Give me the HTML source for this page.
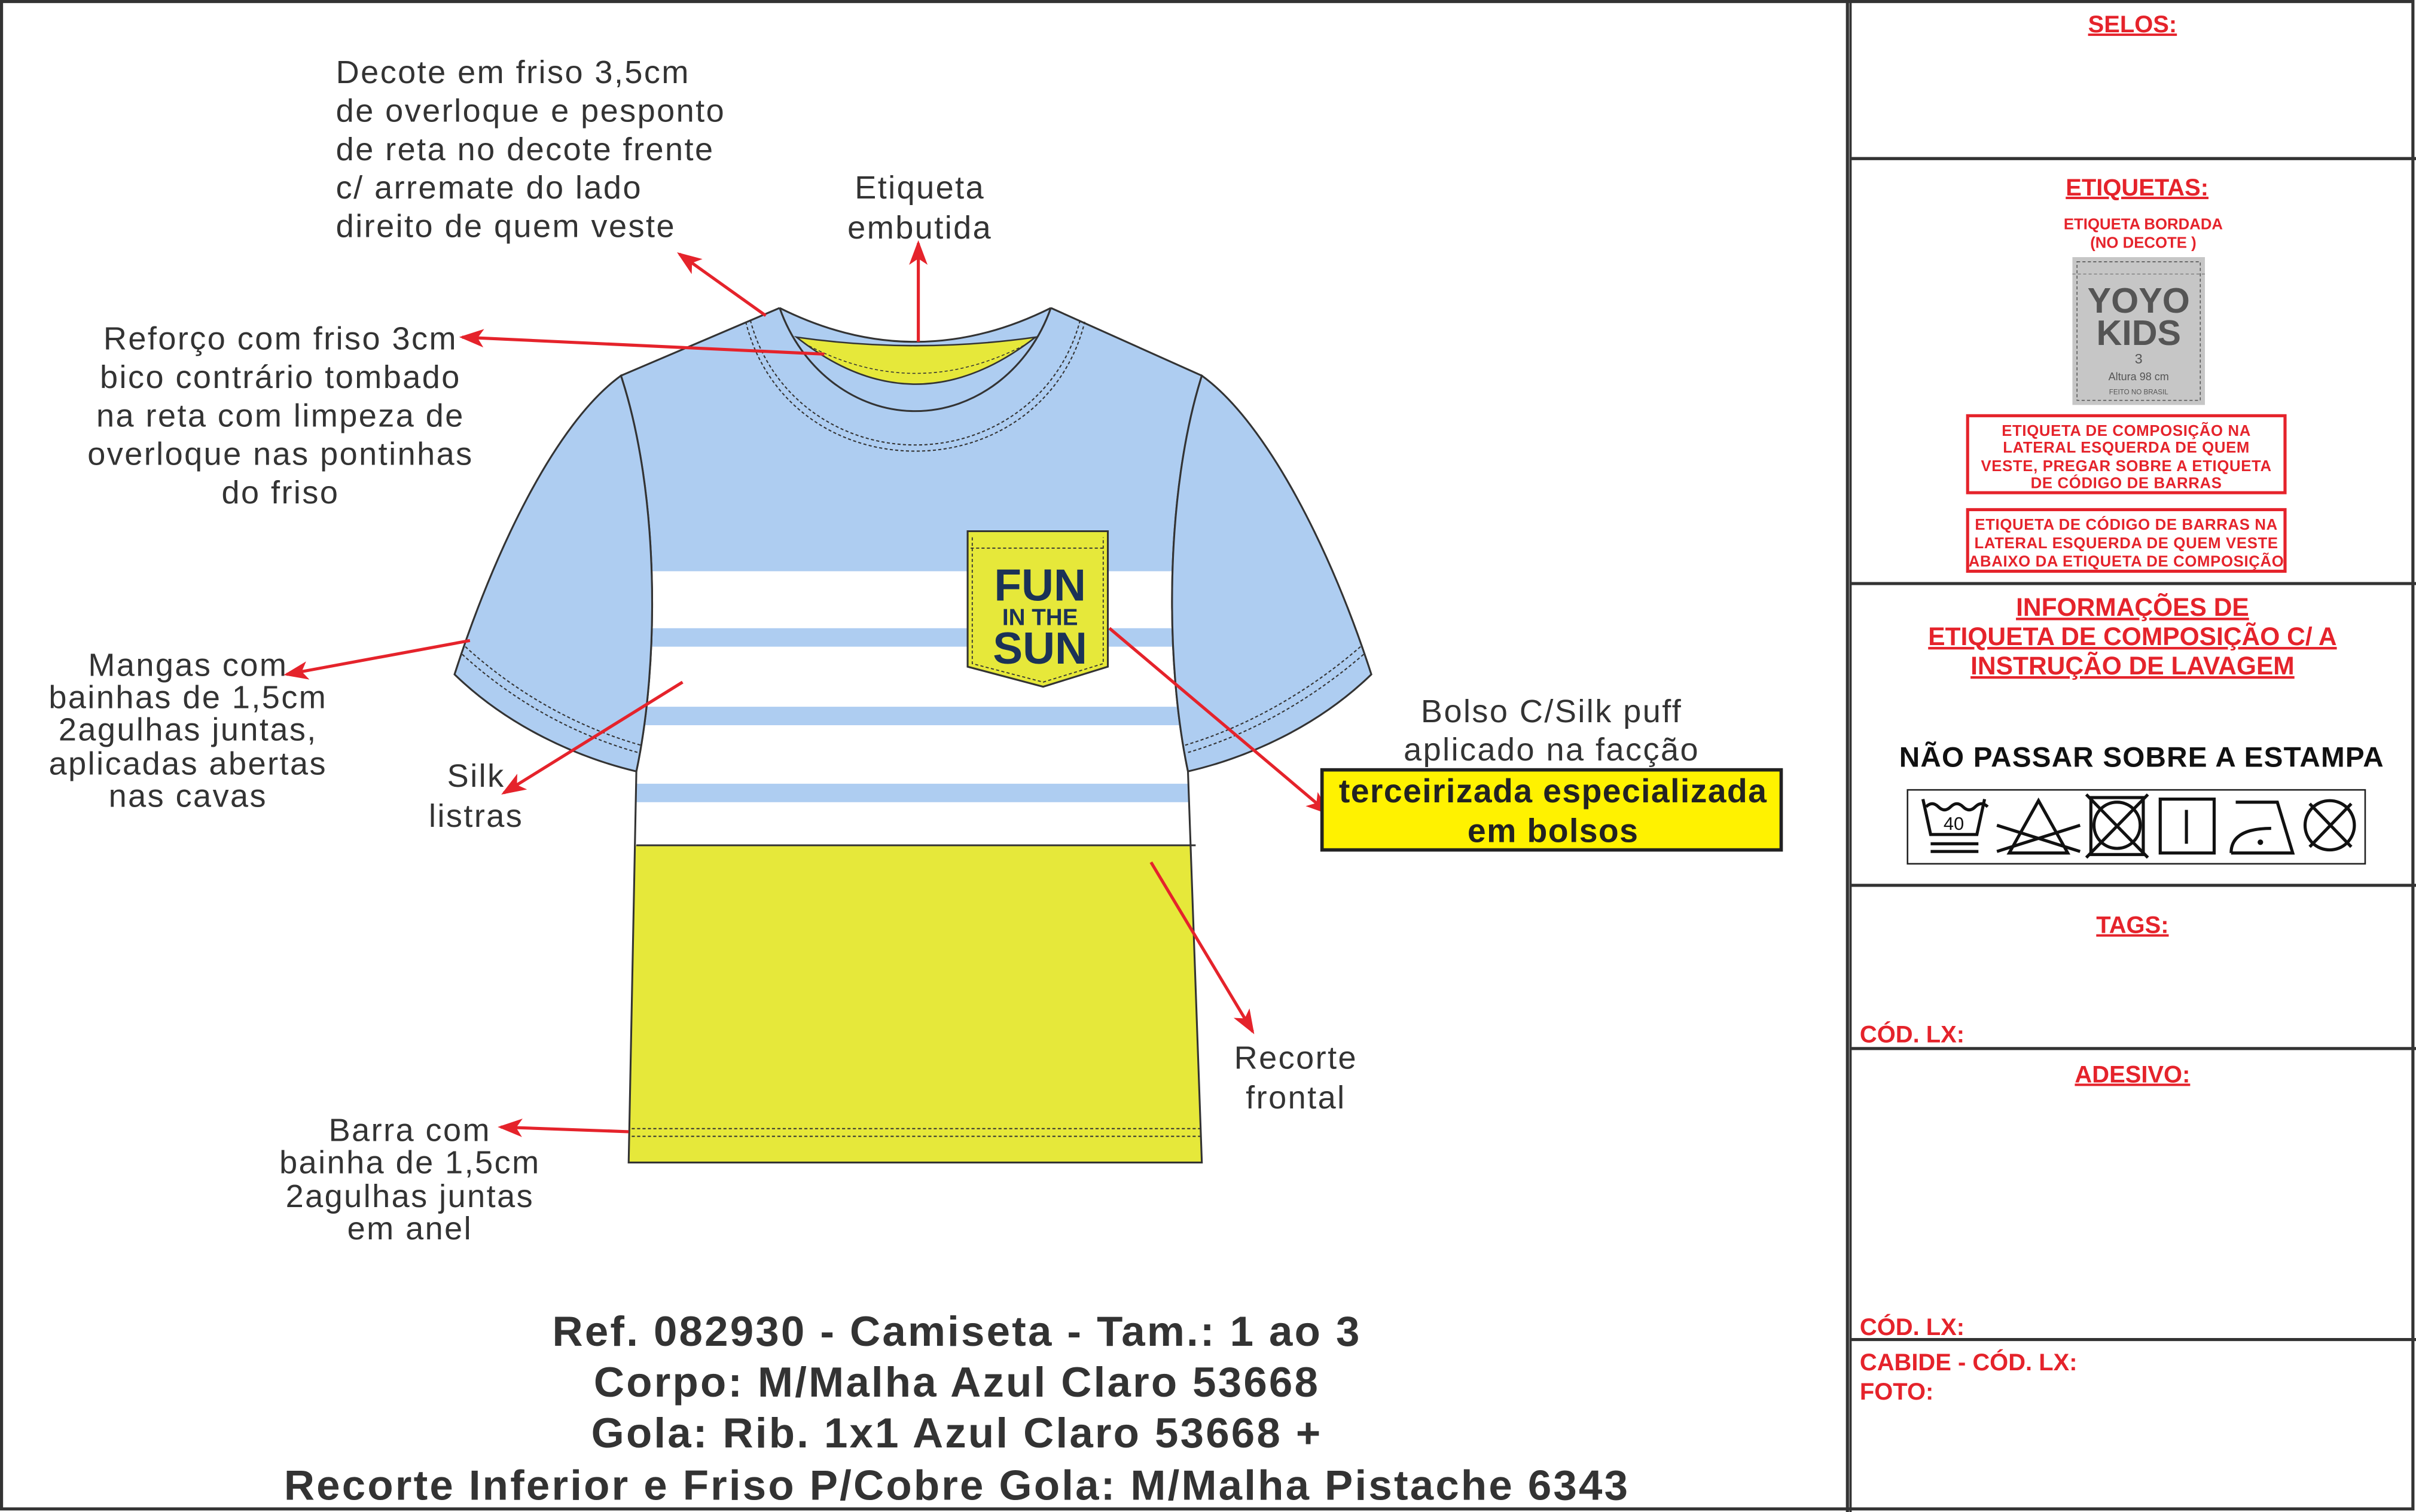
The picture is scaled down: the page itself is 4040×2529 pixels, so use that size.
<!DOCTYPE html>
<html><head><meta charset="utf-8"><style>
html,body{margin:0;padding:0;background:#fff;}
svg{display:block;}
text{font-family:"Liberation Sans",Arial,sans-serif;}
.ls{letter-spacing:0.045em;}
.ls2{letter-spacing:0.025em;}
</style></head><body>
<svg width="4040" height="2529" viewBox="0 0 1568 982" preserveAspectRatio="none" xmlns="http://www.w3.org/2000/svg">
<defs>
<marker id="ah" markerUnits="userSpaceOnUse" markerWidth="16" markerHeight="12" refX="14" refY="6" orient="auto">
<path d="M0,0 L16,6 L0,12 L4,6 Z" fill="#e5232b"/>
</marker>
<clipPath id="bodyclip"><path d="M506,200 L403,244 C428,320 428,430 413,501 L408,755 L780,755 L771,501 C756,430 756,320 780,244 L682,200 Q594,244 506,200 Z"/></clipPath>
</defs>
<rect x="0" y="0" width="1568" height="982" fill="#fff"/>
<rect x="1" y="1" width="1565" height="979" fill="none" stroke="#333" stroke-width="2"/>
<line x1="1199" y1="0" x2="1199" y2="982" stroke="#333" stroke-width="2"/>
<line x1="1201" y1="0" x2="1201" y2="982" stroke="#333" stroke-width="1.5"/>
<g stroke="#333" stroke-width="2">
<line x1="1201" y1="103" x2="1568" y2="103"/>
<line x1="1201" y1="379" x2="1568" y2="379"/>
<line x1="1201" y1="575" x2="1568" y2="575"/>
<line x1="1201" y1="681" x2="1568" y2="681"/>
<line x1="1201" y1="870" x2="1568" y2="870"/>
</g>

<!-- SHIRT body -->
<path d="M506,200 L403,244 C428,320 428,430 413,501 L408,755 L780,755 L771,501 C756,430 756,320 780,244 L682,200 Q594,244 506,200 Z" fill="#aecdf1"/>
<g clip-path="url(#bodyclip)">
<rect x="380" y="371" width="420" height="37" fill="#fff"/>
<rect x="380" y="420" width="420" height="39" fill="#fff"/>
<rect x="380" y="471" width="420" height="38" fill="#fff"/>
<rect x="380" y="521" width="420" height="28" fill="#fff"/>
<rect x="380" y="549" width="420" height="210" fill="#e6e83a"/>
</g>
<line x1="413" y1="549" x2="776" y2="549" stroke="#333" stroke-width="1.2"/>
<path d="M506,200 L403,244 C428,320 428,430 413,501 L408,755 L780,755 L771,501 C756,430 756,320 780,244 L682,200" fill="none" stroke="#333" stroke-width="1.2"/>
<line x1="410" y1="733" x2="779" y2="733" stroke="#333" stroke-width="0.8" stroke-dasharray="2,1.5"/>
<line x1="410" y1="738" x2="779" y2="738" stroke="#333" stroke-width="0.8" stroke-dasharray="2,1.5"/>
<!-- sleeves -->
<path d="M403,244 C360,275 320,360 295,438 C330,472 375,492 413,501 C428,430 428,320 403,244 Z" fill="#aecdf1" stroke="#333" stroke-width="1.2"/>
<path d="M780,244 C823,275 865,360 890,438 C855,472 810,492 771,501 C756,430 756,320 780,244 Z" fill="#aecdf1" stroke="#333" stroke-width="1.2"/>
<path d="M300,425 C335,457 375,478 415,489" fill="none" stroke="#333" stroke-width="0.8" stroke-dasharray="2,1.5"/>
<path d="M302,420 C337,452 377,473 416,484" fill="none" stroke="#333" stroke-width="0.8" stroke-dasharray="2,1.5"/>
<path d="M885,425 C848,457 808,478 770,489" fill="none" stroke="#333" stroke-width="0.8" stroke-dasharray="2,1.5"/>
<path d="M883,420 C846,452 806,473 769,484" fill="none" stroke="#333" stroke-width="0.8" stroke-dasharray="2,1.5"/>
<!-- neck -->
<path d="M506,200 Q594,244 682,200" fill="none" stroke="#333" stroke-width="1.2"/>
<path d="M517,219 Q594,230 672,219 Q594,280 517,219 Z" fill="#e6e83a" stroke="#333" stroke-width="1"/>
<path d="M522,223 Q594,262 667,223" fill="none" stroke="#333" stroke-width="0.6" stroke-dasharray="2,1.5"/>
<path d="M506,200 C520,240 555,267 594,267 C633,267 668,240 682,200" fill="none" stroke="#333" stroke-width="1.2"/>
<path d="M487,208 C500,258 545,289 594,289 C643,289 688,258 701,208" fill="none" stroke="#333" stroke-width="0.8" stroke-dasharray="2,1.5"/>
<path d="M484,209 C497,262 543,293 594,293 C645,293 691,262 704,209" fill="none" stroke="#333" stroke-width="0.8" stroke-dasharray="2,1.5"/>
<!-- pocket -->
<path d="M628,345 L719,345 L719,433 L677,446 L628,433 Z" fill="#e6e83a" stroke="#333" stroke-width="1.2"/>
<path d="M630,356 L717,356 M631,349 L631,431 L677,443 L716,431 L716,349" fill="none" stroke="#333" stroke-width="0.7" stroke-dasharray="2,1.5"/>
<g fill="#1b3257" font-weight="bold" text-anchor="middle">
<text x="675" y="390" font-size="29">FUN</text>
<text x="675" y="406" font-size="15">IN THE</text>
<text x="675" y="431" font-size="29">SUN</text>
</g>

<!-- arrows -->
<g stroke="#e5232b" stroke-width="2" fill="none" marker-end="url(#ah)">
<line x1="497" y1="205" x2="441" y2="165"/>
<line x1="596" y1="222" x2="596" y2="158"/>
<line x1="535" y1="230" x2="300" y2="219"/>
<line x1="305" y1="416" x2="186" y2="438"/>
<line x1="443" y1="443" x2="327" y2="515"/>
<line x1="720" y1="408" x2="862" y2="528"/>
<line x1="747" y1="560" x2="813" y2="670"/>
<line x1="408" y1="735" x2="325" y2="732"/>
</g>

<!-- annotations -->
<g fill="#333" font-size="21" class="ls">
<text x="218" y="54">Decote em friso 3,5cm</text>
<text x="218" y="79">de overloque e pesponto</text>
<text x="218" y="104">de reta no decote frente</text>
<text x="218" y="129">c/ arremate do lado</text>
<text x="218" y="154">direito de quem veste</text>
</g>
<g fill="#333" font-size="21" text-anchor="middle" class="ls">
<text x="597" y="129">Etiqueta</text>
<text x="597" y="155">embutida</text>
<text x="182" y="227">Reforço com friso 3cm</text>
<text x="182" y="252">bico contrário tombado</text>
<text x="182" y="277">na reta com limpeza de</text>
<text x="182" y="302">overloque nas pontinhas</text>
<text x="182" y="327">do friso</text>
<text x="122" y="439">Mangas com</text>
<text x="122" y="460">bainhas de 1,5cm</text>
<text x="122" y="481">2agulhas juntas,</text>
<text x="122" y="503">aplicadas abertas</text>
<text x="122" y="524">nas cavas</text>
<text x="309" y="511">Silk</text>
<text x="309" y="537">listras</text>
<text x="1007" y="469">Bolso C/Silk puff</text>
<text x="1007" y="494">aplicado na facção</text>
<text x="841" y="694">Recorte</text>
<text x="841" y="720">frontal</text>
<text x="266" y="741">Barra com</text>
<text x="266" y="762">bainha de 1,5cm</text>
<text x="266" y="784">2agulhas juntas</text>
<text x="266" y="805">em anel</text>
</g>
<rect x="858" y="500" width="298" height="52" fill="#fff200" stroke="#222" stroke-width="2.2"/>
<g fill="#222" font-size="21.5" font-weight="bold" text-anchor="middle" class="ls2">
<text x="1008" y="521">terceirizada especializada</text>
<text x="1008" y="547">em bolsos</text>
</g>

<!-- title -->
<g fill="#333" font-size="27.5" font-weight="bold" text-anchor="middle" class="ls">
<text x="621" y="874">Ref. 082930 - Camiseta - Tam.: 1 ao 3</text>
<text x="621" y="907">Corpo: M/Malha Azul Claro 53668</text>
<text x="621" y="940">Gola: Rib. 1x1 Azul Claro 53668 +</text>
<text x="621" y="974">Recorte Inferior e Friso P/Cobre Gola: M/Malha Pistache 6343</text>
</g>

<!-- right panel -->
<g fill="#e5232b" font-weight="bold" text-anchor="middle" font-size="15.5" text-decoration="underline">
<text x="1384" y="21">SELOS:</text>
<text x="1387" y="127">ETIQUETAS:</text>
<text x="1384" y="606">TAGS:</text>
<text x="1384" y="703">ADESIVO:</text>
</g>
<g fill="#e5232b" font-weight="bold" text-anchor="middle" font-size="10">
<text x="1391" y="149">ETIQUETA BORDADA</text>
<text x="1391" y="161">(NO DECOTE )</text>
</g>
<rect x="1345" y="167" width="86" height="96" fill="#c6c6c6"/>
<rect x="1348" y="170" width="80" height="90" fill="none" stroke="#555" stroke-width="0.6" stroke-dasharray="2,1.5"/>
<line x1="1345" y1="178" x2="1431" y2="178" stroke="#777" stroke-width="0.5" stroke-dasharray="2,1.5"/>
<g fill="#555" font-weight="bold" text-anchor="middle">
<text x="1388" y="203" font-size="23">YOYO</text>
<text x="1388" y="224" font-size="23">KIDS</text>
<text x="1388" y="236" font-size="9" font-weight="normal">3</text>
<text x="1388" y="247" font-size="7" font-weight="normal">Altura 98 cm</text>
<text x="1388" y="256" font-size="4.5" font-weight="normal">FEITO NO BRASIL</text>
</g>
<rect x="1277" y="270" width="206" height="50" fill="none" stroke="#e5232b" stroke-width="2"/>
<rect x="1277" y="331" width="206" height="40" fill="none" stroke="#e5232b" stroke-width="2"/>
<g fill="#e5232b" font-weight="bold" text-anchor="middle" font-size="10" class="ls2">
<text x="1380" y="283">ETIQUETA DE COMPOSIÇÃO NA</text>
<text x="1380" y="294">LATERAL ESQUERDA DE QUEM</text>
<text x="1380" y="306">VESTE, PREGAR SOBRE A ETIQUETA</text>
<text x="1380" y="317">DE CÓDIGO DE BARRAS</text>
<text x="1380" y="344">ETIQUETA DE CÓDIGO DE BARRAS NA</text>
<text x="1380" y="356">LATERAL ESQUERDA DE QUEM VESTE</text>
<text x="1380" y="368">ABAIXO DA ETIQUETA DE COMPOSIÇÃO</text>
</g>
<g fill="#e5232b" font-weight="bold" text-anchor="middle" font-size="16.5" text-decoration="underline">
<text x="1384" y="400">INFORMAÇÕES DE</text>
<text x="1384" y="419">ETIQUETA DE COMPOSIÇÃO C/ A</text>
<text x="1384" y="438">INSTRUÇÃO DE LAVAGEM</text>
</g>
<text x="1390" y="498" fill="#111" font-size="18.5" font-weight="bold" text-anchor="middle" class="ls2">NÃO PASSAR SOBRE A ESTAMPA</text>
<rect x="1238" y="513" width="297" height="48" fill="#fff" stroke="#222" stroke-width="1"/>
<g fill="none" stroke="#111" stroke-width="2">
<path d="M1248,519 L1253,542 L1283,542 L1288,519"/>
<path d="M1250,524 q4,-4 8,0 q4,4 8,0 q4,-4 8,0 q4,4 8,0 q4,-4 8,0"/>
<line x1="1253" y1="548" x2="1284" y2="548"/>
<line x1="1253" y1="553" x2="1284" y2="553"/>
<path d="M1323,520 L1342,554 L1304,554 Z"/>
<line x1="1296" y1="536" x2="1350" y2="553"/>
<line x1="1296" y1="553" x2="1350" y2="536"/>
<rect x="1357" y="518" width="34" height="37"/>
<circle cx="1374" cy="536" r="15"/>
<line x1="1354" y1="516" x2="1394" y2="557"/>
<line x1="1394" y1="516" x2="1354" y2="557"/>
<rect x="1402" y="519" width="35" height="35"/>
<line x1="1419" y1="526" x2="1419" y2="548"/>
<path d="M1448,554 L1488,554 L1478,521 L1451,521 M1448,554 Q1448,538 1474,538"/>
<circle cx="1512" cy="536" r="16"/>
<line x1="1499" y1="522" x2="1526" y2="550"/>
<line x1="1526" y1="522" x2="1499" y2="550"/>
</g>
<circle cx="1467" cy="547" r="1.8" fill="#111"/>
<text x="1268" y="539" font-size="12" fill="#111" text-anchor="middle">40</text>
<g fill="#e5232b" font-weight="bold" font-size="15.5">
<text x="1207" y="677">CÓD. LX:</text>
<text x="1207" y="867">CÓD. LX:</text>
<text x="1207" y="890">CABIDE - CÓD. LX:</text>
<text x="1207" y="909">FOTO:</text>
</g>
</svg>
</body></html>
